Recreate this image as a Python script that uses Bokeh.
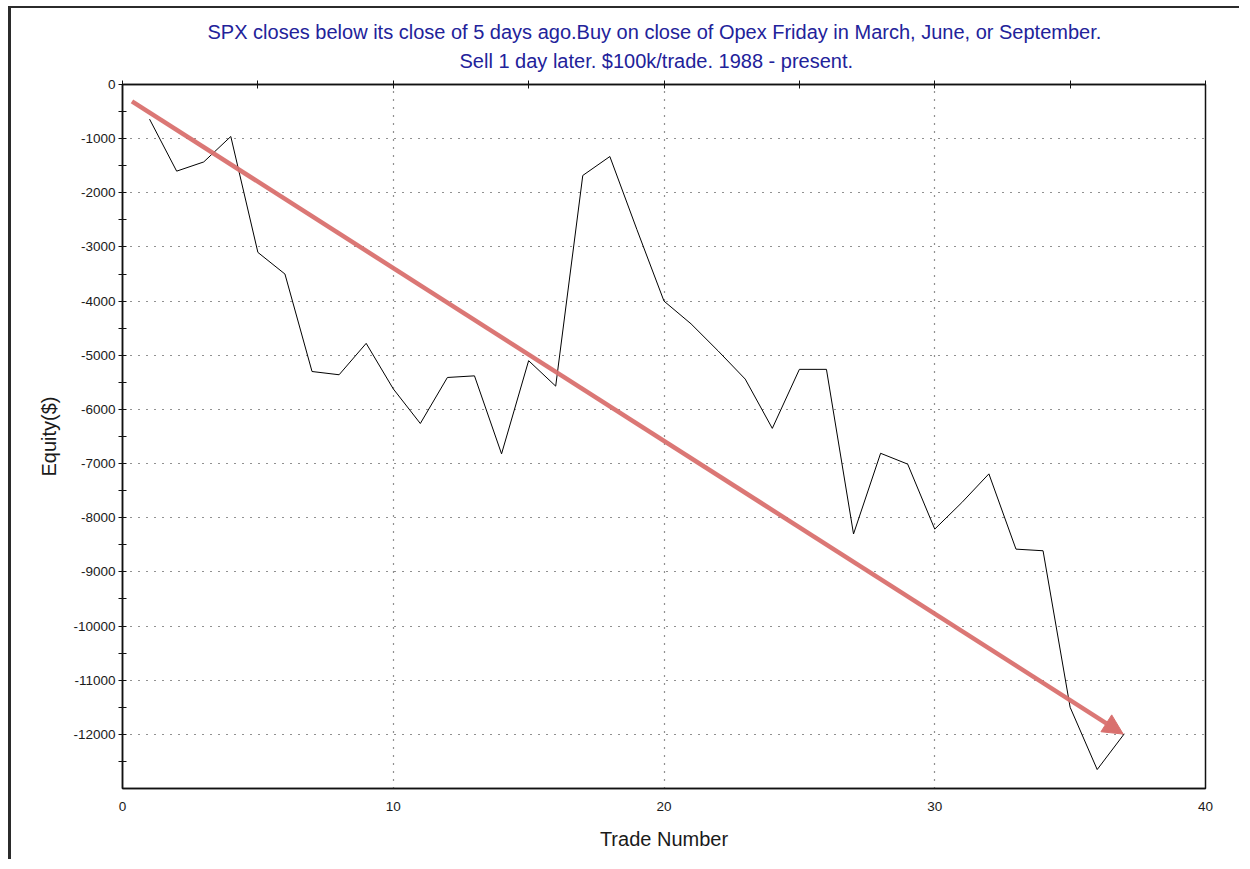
from bokeh.plotting import figure
from bokeh.models import (Range1d, LinearAxis, Title, Arrow,
                          NormalHead, FixedTicker, PrintfTickFormatter)
from bokeh.embed import file_html
from bokeh.resources import INLINE

# ---- data ----
trade_number = list(range(1, 38))
equity = [-640, -1600, -1430, -960, -3100, -3500, -5300, -5360, -4780, -5620,
          -6260, -5410, -5380, -6820, -5100, -5570, -1680, -1330, -2680, -4000,
          -4420, -4920, -5440, -6350, -5260, -5260, -8300, -6810, -7010, -8210,
          -7720, -7190, -8580, -8610, -11500, -12650, -11990]
y_major_ticks = [0, -1000, -2000, -3000, -4000, -5000, -6000, -7000, -8000,
                 -9000, -10000, -11000, -12000]
y_minor_ticks = [-500, -1500, -2500, -3500, -4500, -5500, -6500, -7500, -8500,
                 -9500, -10500, -11500, -12500]
x_label_ticks = [0, 10, 20, 30, 40]
x_grid_ticks = [10, 20, 30]
x_top_ticks = [0, 5, 10, 15, 20, 25, 30, 35, 40]
trend_start = (0.35, -310)
trend_end = (36.96, -11995)
title_line1 = "SPX closes below its close of 5 days ago.Buy on close of Opex Friday in March, June, or September."
title_line2 = "Sell 1 day later. $100k/trade. 1988 - present."
x_label = "Trade Number"
y_label = "Equity($)"

FONT = "Liberation Sans"
TXT = "#1a1a1a"

p = figure(width=1231, height=853, output_backend="svg", toolbar_location=None,
           x_range=Range1d(0, 40), y_range=Range1d(-13000, 0),
           min_border_left=111, min_border_right=37, min_border_top=76,
           min_border_bottom=73, background_fill_color="white",
           border_fill_color="white", outline_line_color="#111111",
           outline_line_width=1.5,
           styles={"margin-left": "8px", "margin-top": "6px",
                   "border-left": "3px solid #2b2b2b", "border-top": "2px solid #2b2b2b"})

p.line(trade_number, equity, line_color="black", line_width=1)

p.add_layout(Arrow(end=NormalHead(size=20, fill_color="#d9706e", line_color="#d9706e"),
                   x_start=trend_start[0], y_start=trend_start[1],
                   x_end=trend_end[0], y_end=trend_end[1],
                   line_color="#d9706e", line_width=4.5, line_alpha=0.95))

# axes
xa = p.xaxis[0]
xa.ticker = FixedTicker(ticks=x_label_ticks)
xa.major_tick_line_color = None
xa.minor_tick_line_color = None
xa.axis_line_color = "#111111"
xa.axis_line_width = 1.5
xa.major_label_standoff = 7
xa.major_label_text_font = FONT
xa.major_label_text_font_size = "13.5px"
xa.major_label_text_color = TXT
xa.axis_label = x_label
xa.axis_label_text_font = FONT
xa.axis_label_text_font_style = "normal"
xa.axis_label_text_font_size = "20px"
xa.axis_label_text_color = TXT
xa.axis_label_standoff = 14

ya = p.yaxis[0]
ya.ticker = FixedTicker(ticks=y_major_ticks, minor_ticks=y_minor_ticks)
ya.formatter = PrintfTickFormatter(format="%d")
ya.major_tick_in = 4
ya.major_tick_out = 4
ya.minor_tick_in = 4
ya.minor_tick_out = 4
ya.major_tick_line_color = "#111111"
ya.minor_tick_line_color = "#111111"
ya.axis_line_color = "#111111"
ya.axis_line_width = 1.5
ya.major_label_standoff = 3
ya.major_label_text_font = FONT
ya.major_label_text_font_size = "13.5px"
ya.major_label_text_color = TXT
ya.axis_label = y_label
ya.axis_label_text_font = FONT
ya.axis_label_text_font_style = "normal"
ya.axis_label_text_font_size = "20px"
ya.axis_label_text_color = TXT
ya.axis_label_standoff = 10

top = LinearAxis(ticker=FixedTicker(ticks=x_top_ticks),
                 major_label_text_font_size="0px", major_tick_in=4, major_tick_out=4,
                 minor_tick_line_color=None, axis_line_color="#111111",
                 axis_line_width=1.5, major_tick_line_color="#111111",
                 major_label_standoff=3)
top.major_label_text_alpha = 0
p.add_layout(top, "above")

# grids
p.xgrid.ticker = FixedTicker(ticks=x_grid_ticks)
p.ygrid.ticker = FixedTicker(ticks=y_major_ticks)
for g in (p.xgrid[0], p.ygrid[0]):
    g.grid_line_color = "#222222"
    g.grid_line_dash = "1 7"
    g.grid_line_width = 1.2

# titles (second line added first so it sits closer to the plot)
p.add_layout(Title(text=title_line2, align="left", text_font=FONT,
                   text_font_size="20px", text_font_style="normal",
                   text_color="#22229a", offset=337, standoff=17), "above")
p.add_layout(Title(text=title_line1, align="left", text_font=FONT,
                   text_font_size="20px", text_font_style="normal",
                   text_color="#22229a", offset=85, standoff=-7), "above")

open("out.html", "w").write(file_html(p, INLINE))
